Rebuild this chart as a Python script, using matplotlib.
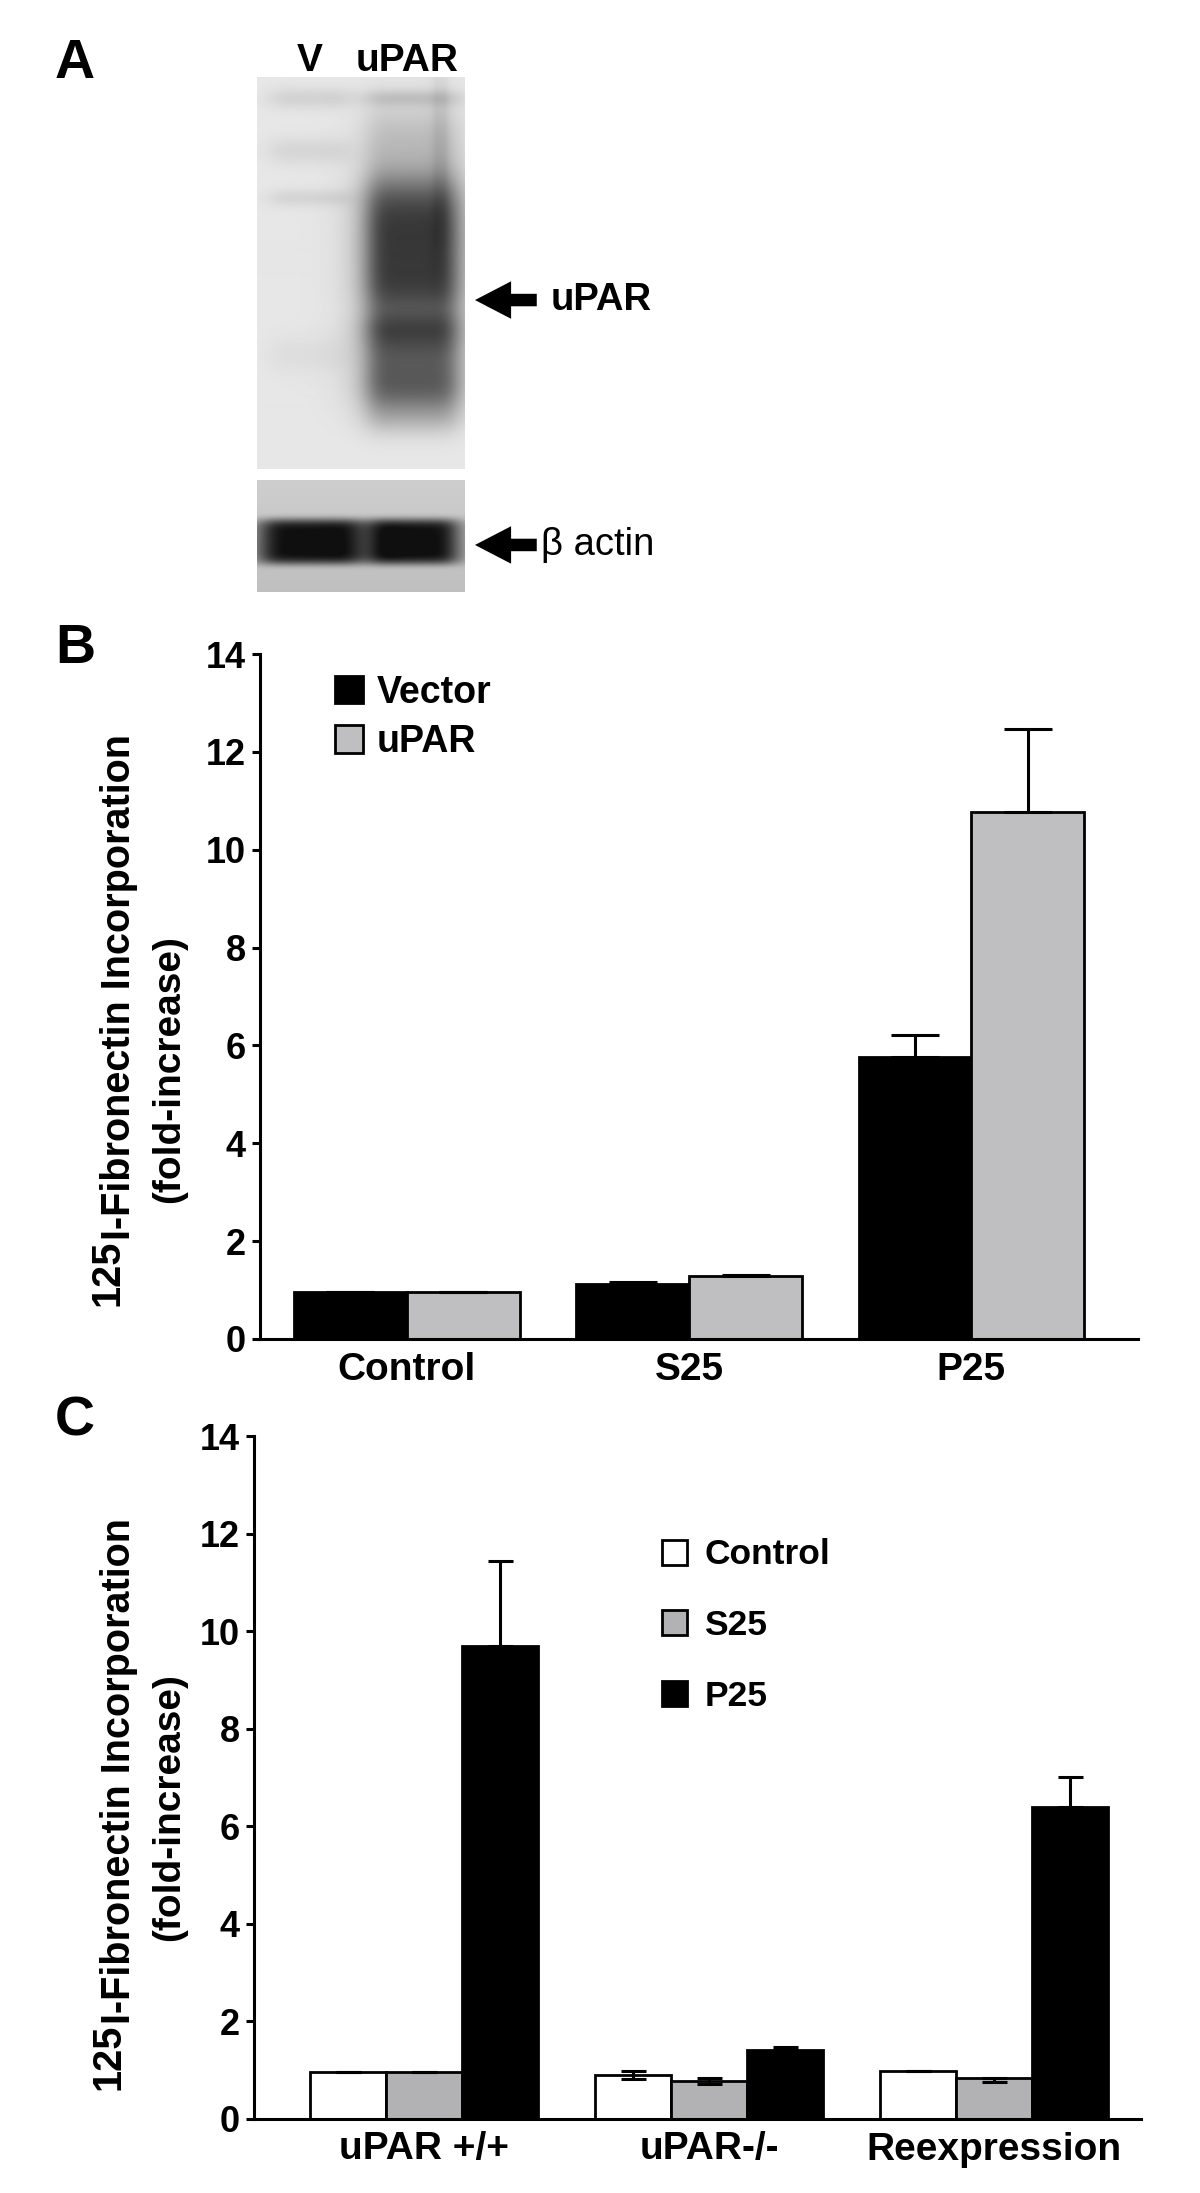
import numpy as np
import matplotlib
matplotlib.use("Agg")
import matplotlib.pyplot as plt

plt.rcParams['font.family'] = ['Liberation Sans', 'DejaVu Sans']
plt.rcParams['font.weight'] = 'bold'

W, H = 1200, 2193

# panel B data
groups_b = ['Control', 'S25', 'P25']
vector_mean = [0.97, 1.13, 5.76]
vector_err = [0.0, 0.04, 0.46]
upar_mean = [0.96, 1.28, 10.77]
upar_err = [0.0, 0.03, 1.70]

# panel C data
groups_c = ['uPAR +/+', 'uPAR-/-', 'Reexpression']
ctrl_mean = [0.97, 0.91, 0.98]
ctrl_lo = [0.0, 0.08, 0.0]
ctrl_hi = [0.0, 0.08, 0.01]
s25_mean = [0.97, 0.78, 0.84]
s25_lo = [0.0, 0.06, 0.09]
s25_hi = [0.0, 0.06, 0.0]
p25_mean = [9.69, 1.41, 6.39]
p25_lo = [0.0, 0.0, 0.0]
p25_hi = [1.75, 0.06, 0.63]

yticks = [0, 2, 4, 6, 8, 10, 12, 14]
label_iso = "125"
ylabel1 = "I-Fibronectin Incorporation"
ylabel2 = "(fold-increase)"

# blot A: bands per lane (centre, sigma, darkness, sharpness), fractions of blot height
lane_labels = ['V', 'uPAR']
v_bands = [(0.056, 0.02, 20, 2), (0.19, 0.025, 17, 2), (0.31, 0.016, 18, 2), (0.71, 0.035, 9, 2)]
u_bands = [(0.056, 0.015, 28, 2), (0.18, 0.08, 45, 2), (0.45, 0.16, 175, 4),
           (0.72, 0.09, 140, 4), (0.85, 0.04, 70, 2)]
streak_bands = [(0.2, 0.2, 18, 2)]
actin_bands = [(0.55, 0.18, 185, 6)]


def px_box(x0, y0, x1, y1):
    return [x0 / W, 1 - y1 / H, (x1 - x0) / W, (y1 - y0) / H]


def blot_image(nw, nh, bg, lanes):
    xs = np.arange(nw)[None, :]
    ys = (np.arange(nh)[:, None] + 0.5) / nh
    img = np.zeros((nh, nw)) + bg
    for (c, hw, lp), bands in lanes:
        prof = 1 / (1 + np.abs((xs - c) / hw) ** lp)
        for yc, sig, d, p in bands:
            img = img - d * prof * np.exp(-0.5 * np.abs((ys - yc) / sig) ** p)
    return np.clip(img, 15, 255)


fig = plt.figure(figsize=(W / 100, H / 100), dpi=100)

# ---------- panel A ----------
axa = fig.add_axes(px_box(257, 77, 465, 469))
top = blot_image(208, 392, 231, [((53, 40, 6), v_bands), ((155, 47, 6), u_bands),
                                 ((183, 8, 4), streak_bands)])
axa.imshow(top, cmap='gray', vmin=0, vmax=255, aspect='auto', interpolation='bilinear')
axa.axis('off')
axa.text(0.255, 1.015, lane_labels[0], transform=axa.transAxes, ha='center', va='baseline', fontsize=28)
axa.text(0.72, 1.015, lane_labels[1], transform=axa.transAxes, ha='center', va='baseline', fontsize=28)

axa2 = fig.add_axes(px_box(257, 480, 465, 592))
grad = 205 - 14 * np.linspace(0, 1, 112)[:, None]
low = blot_image(208, 112, grad, [((53, 51, 6), actin_bands), ((156, 44, 6), actin_bands)])
axa2.imshow(low, cmap='gray', vmin=0, vmax=255, aspect='auto', interpolation='bilinear')
axa2.axis('off')

arrow_style = "simple,head_length=26,head_width=27,tail_width=9"
for ax, yf, label, wt, xt in [(axa, 0.431, 'uPAR', 'bold', 1.41), (axa2, 0.42, r'β actin', 'normal', 1.365)]:
    ax.annotate('', xy=(1.048, yf), xytext=(1.345, yf), xycoords='axes fraction',
                arrowprops=dict(arrowstyle=arrow_style, mutation_scale=1, fc='black', ec='black',
                                lw=0, shrinkA=0, shrinkB=0), annotation_clip=False)
    ax.text(xt, yf, label, transform=ax.transAxes, ha='left', va='center', fontsize=27.5, fontweight=wt)


def style_axes(ax, xl):
    ax.set_ylim(0, 14)
    ax.set_xlim(*xl)
    ax.set_yticks(yticks)
    ax.spines['top'].set_visible(False)
    ax.spines['right'].set_visible(False)
    for s in ['left', 'bottom']:
        ax.spines[s].set_linewidth(2.2)
    ax.tick_params(axis='y', length=6, width=2.2, labelsize=26, pad=4)
    ax.tick_params(axis='x', length=0, labelsize=28, pad=9)
    for t in ax.get_xticklabels() + ax.get_yticklabels():
        t.set_fontweight('bold')


def fold_label(ax, x1, y1, x2, y2):
    t1 = ax.text(x1, y1, ylabel1, transform=ax.transAxes, rotation=90, ha='center', va='center', fontsize=28.5)
    ax.annotate(label_iso, xy=(0.5, 0), xycoords=t1, xytext=(-8, 0), textcoords='offset points',
                rotation=90, ha='center', va='top', fontsize=28.5)
    ax.text(x2, y2, ylabel2, transform=ax.transAxes, rotation=90, ha='center', va='center', fontsize=28)


# ---------- panel B ----------
axb = fig.add_axes(px_box(260, 654, 1138, 1339))
xb = np.arange(len(groups_b))
bw = 0.4
b1 = axb.bar(xb - bw / 2, vector_mean, bw, color='black', edgecolor='black', linewidth=2, label='Vector', zorder=2)
b2 = axb.bar(xb + bw / 2, upar_mean, bw, color='#bfbfc1', edgecolor='black', linewidth=2, label='uPAR', zorder=2)
axb.errorbar(xb - bw / 2, vector_mean, yerr=[np.zeros(3), vector_err], fmt='none', ecolor='black',
             elinewidth=2.2, capsize=17, capthick=2.2, zorder=3)
axb.errorbar(xb + bw / 2, upar_mean, yerr=[np.zeros(3), upar_err], fmt='none', ecolor='black',
             elinewidth=2.2, capsize=17, capthick=2.2, zorder=3)
axb.set_xticks(xb)
axb.set_xticklabels(groups_b)
style_axes(axb, (-0.52, 2.59))
axb.legend(handles=[b1, b2], loc='upper left', bbox_to_anchor=(0.0854, 0.970), frameon=False,
           borderpad=0, borderaxespad=0, handlelength=0.75, handleheight=0.75,
           handletextpad=0.37, labelspacing=0.36, prop={'weight': 'bold', 'size': 27})
fold_label(axb, -0.161, 0.514, -0.103, 0.394)

# ---------- panel C ----------
axc = fig.add_axes(px_box(254, 1436, 1141, 2119))
xc = np.arange(len(groups_c))
cw = 0.8 / 3
c1 = axc.bar(xc - cw, ctrl_mean, cw, color='white', edgecolor='black', linewidth=2, label='Control', zorder=2)
c2 = axc.bar(xc, s25_mean, cw, color='#b2b2b4', edgecolor='black', linewidth=2, label='S25', zorder=2)
c3 = axc.bar(xc + cw, p25_mean, cw, color='black', edgecolor='black', linewidth=2, label='P25', zorder=2)
for xx, m, lo, hi in [(xc - cw, ctrl_mean, ctrl_lo, ctrl_hi), (xc, s25_mean, s25_lo, s25_hi),
                      (xc + cw, p25_mean, p25_lo, p25_hi)]:
    axc.errorbar(xx, m, yerr=[lo, hi], fmt='none', ecolor='black', elinewidth=2.2,
                 capsize=9, capthick=2.2, zorder=3)
axc.set_xticks(xc)
axc.set_xticklabels(groups_c)
style_axes(axc, (-0.596, 2.516))
axc.legend(handles=[c1, c2, c3], loc='upper left', bbox_to_anchor=(0.46, 0.850), frameon=False,
           borderpad=0, borderaxespad=0, handlelength=0.71, handleheight=0.71,
           handletextpad=0.48, labelspacing=1.06, prop={'weight': 'bold', 'size': 25.5})
fold_label(axc, -0.152, 0.51, -0.096, 0.456)

# panel letters
for letter, (x, y) in zip(['A', 'B', 'C'], [(55, 38), (55, 623), (55, 1395)]):
    fig.text(x / W, 1 - y / H, letter, ha='left', va='top', fontsize=40, fontweight='bold')

fig.savefig('out.png', dpi=100)
